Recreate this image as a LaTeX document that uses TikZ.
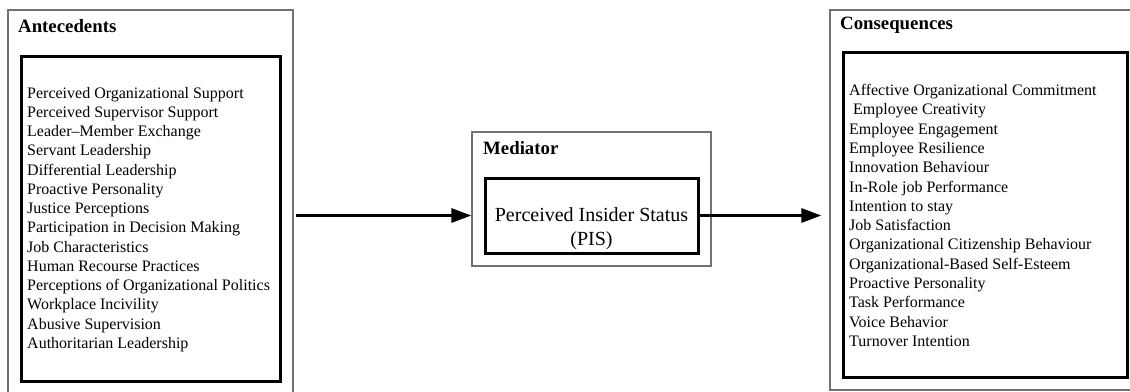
\documentclass[tikz,border=0pt]{standalone}
\usepackage{fontspec}
\setmainfont{Liberation Serif}
\usetikzlibrary{arrows.meta}
\begin{document}
\begin{tikzpicture}[x=1pt,y=-1pt,
  outerbox/.style={draw=black!55, line width=1.2pt, inner sep=0pt, rectangle},
  innerbox/.style={draw=black, line width=3pt, inner sep=0pt, rectangle},
  boxtitle/.style={font=\fontsize{18.8}{22}\selectfont\bfseries, anchor=base west, inner sep=0pt},
  item/.style={font=\fontsize{16}{19}\selectfont, anchor=base west, inner sep=0pt},
  pistext/.style={font=\fontsize{20}{24}\selectfont, anchor=base, inner sep=0pt},
  flow/.style={line width=3pt, -{Triangle[length=20pt,width=14pt]}}]
\useasboundingbox (0,0) rectangle (1130,391);

% boxes
\node[outerbox, minimum width=285pt, minimum height=390pt] (antOuter) at (150.5,205) {};
\node[innerbox, minimum width=259pt, minimum height=325pt] (antInner) at (150.5,218.5) {};
\node[outerbox, minimum width=239pt, minimum height=134pt] (medOuter) at (591.5,199) {};
\node[innerbox, minimum width=213pt, minimum height=75pt] (medInner) at (591.5,215.5) {};
\node[outerbox, minimum width=310pt, minimum height=380pt] (conOuter) at (985,200) {};
\node[innerbox, minimum width=284pt, minimum height=325pt] (conInner) at (985,214.5) {};

% titles
\node[boxtitle] (antTitle) at (18,32) {Antecedents};
\node[boxtitle] (medTitle) at (483,154) {Mediator};
\node[boxtitle] (conTitle) at (840,29) {Consequences};

% mediator text
\node[pistext] (pis1) at (591.5,221.5) {Perceived Insider Status};
\node[pistext] (pis2) at (591.5,245.5) {(PIS)};

% antecedents
\foreach \t [count=\i from 0] in {
  Perceived Organizational Support,
  Perceived Supervisor Support,
  Leader--Member Exchange,
  Servant Leadership,
  Differential Leadership,
  Proactive Personality,
  Justice Perceptions,
  Participation in Decision Making,
  Job Characteristics,
  Human Recourse Practices,
  Perceptions of Organizational Politics,
  Workplace Incivility,
  Abusive Supervision,
  Authoritarian Leadership}
  \node[item] (ant\i) at (27,98+19.25*\i) {\t};

% consequences
\foreach \t [count=\i from 0] in {
  Affective Organizational Commitment,
  \ Employee Creativity,
  Employee Engagement,
  Employee Resilience,
  Innovation Behaviour,
  In-Role job Performance,
  Intention to stay,
  Job Satisfaction,
  Organizational Citizenship Behaviour,
  Organizational-Based Self-Esteem,
  Proactive Personality,
  Task Performance,
  Voice Behavior,
  Turnover Intention}
  \node[item] (con\i) at (849,95.5+19.3*\i) {\t};

% connectors
\draw[flow, shorten <=2pt] (antOuter.east |- medInner.east) -- (medOuter.west |- medInner.east);
\draw[flow, shorten >=8pt] (medInner.east) -- (conOuter.west |- medInner.east);
\end{tikzpicture}
\end{document}
